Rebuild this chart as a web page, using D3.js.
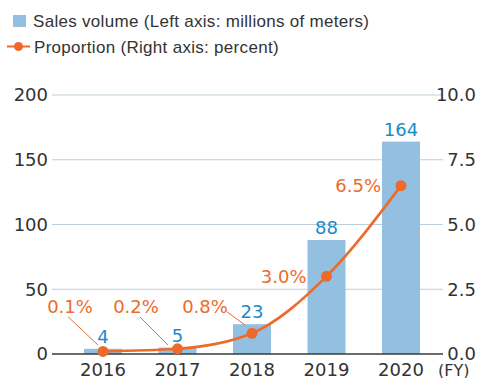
<!DOCTYPE html>
<html>
<head>
<meta charset="utf-8">
<script src="https://cdn.jsdelivr.net/npm/d3@7"></script>
<style>
  html, body { margin: 0; padding: 0; background: #fff; }
  svg { display: block; }
</style>
</head>
<body>
<svg id="chart" width="483" height="378"></svg>
<script>
// Fiscal years and values
const years = ["2016", "2017", "2018", "2019", "2020"];
const salesVolume = [4, 5, 23, 88, 164];          // millions of meters (left axis)
const proportion = [0.1, 0.2, 0.8, 3.0, 6.5];      // percent (right axis)
const proportionLabels = ["0.1%", "0.2%", "0.8%", "3.0%", "6.5%"];
const leftTicks = [0, 50, 100, 150, 200];
const rightTicks = [0, 2.5, 5, 7.5, 10];
const legendLabels = ["Sales volume (Left axis: millions of meters)", "Proportion (Right axis: percent)"];

const barColor = "#93bfe0";
const valueColor = "#1a8bc6";
const lineColor = "#ee6a2b";
const gridColor = "#bccfdd";
const textColor = "#333333";
const numFont = "'DejaVu Sans', sans-serif";
const textFont = "'Liberation Sans', Arial, sans-serif";

const svg = d3.select("#chart");

const plotLeft = 52, plotRight = 443, yBottom = 354, yTop = 95;

const x = d3.scaleBand().domain(years).range([84, 420]).paddingInner(0.49).paddingOuter(0);
const yL = d3.scaleLinear().domain([0, 200]).range([yBottom, yTop]);
const yR = d3.scaleLinear().domain([0, 10]).range([yBottom, yTop]);
const cx = d => x(d) + x.bandwidth() / 2;

// Gridlines
svg.append("g").selectAll("line").data(leftTicks.filter(t => t > 0)).join("line")
  .attr("x1", plotLeft).attr("x2", plotRight)
  .attr("y1", d => yL(d)).attr("y2", d => yL(d))
  .attr("stroke", gridColor).attr("stroke-width", 1.2);

// Left axis labels
const leftAxis = d3.axisLeft(yL).tickValues(leftTicks).tickSize(0).tickPadding(4).tickFormat(d3.format("d"));
const gL = svg.append("g").attr("transform", `translate(${plotLeft},0)`).call(leftAxis);
gL.select(".domain").remove();
gL.selectAll("text").attr("font-family", numFont).attr("font-size", 18).attr("fill", textColor);

// Right axis labels (right-aligned)
const rightAxis = d3.axisRight(yR).tickValues(rightTicks).tickSize(0).tickPadding(0).tickFormat(d3.format(".1f"));
const gR = svg.append("g").attr("transform", `translate(476,0)`).call(rightAxis);
gR.select(".domain").remove();
gR.selectAll("text").attr("font-family", numFont).attr("font-size", 18).attr("fill", textColor)
  .attr("text-anchor", "end").attr("x", 0);

// Bars
svg.append("g").selectAll("rect").data(years).join("rect")
  .attr("x", d => x(d)).attr("width", x.bandwidth())
  .attr("y", (d, i) => yL(salesVolume[i]))
  .attr("height", (d, i) => yBottom - yL(salesVolume[i]))
  .attr("fill", barColor);

// Baseline
svg.append("line").attr("x1", plotLeft).attr("x2", plotRight)
  .attr("y1", yBottom).attr("y2", yBottom)
  .attr("stroke", "#3a3a3a").attr("stroke-width", 1.5);

// Bar value labels
svg.append("g").selectAll("text").data(years).join("text")
  .attr("x", d => cx(d)).attr("y", (d, i) => yL(salesVolume[i]) - 6)
  .attr("text-anchor", "middle")
  .attr("font-family", numFont).attr("font-size", 18).attr("fill", valueColor)
  .text((d, i) => salesVolume[i]);

// X axis labels
const xAxis = d3.axisBottom(x).tickSize(0).tickPadding(0);
const gX = svg.append("g").attr("transform", `translate(0,${yBottom})`).call(xAxis);
gX.select(".domain").remove();
gX.selectAll("text").attr("font-family", numFont).attr("font-size", 18).attr("fill", textColor)
  .attr("dy", null).attr("y", 22);
svg.append("text").attr("x", 438).attr("y", 376)
  .attr("font-family", numFont).attr("font-size", 16).attr("fill", textColor).text("(FY)");

// Proportion line
const line = d3.line().x((d, i) => cx(years[i])).y(d => yR(d)).curve(d3.curveMonotoneX);
svg.append("path").datum(proportion).attr("d", line)
  .attr("fill", "none").attr("stroke", lineColor).attr("stroke-width", 2.6);

// Leader lines and labels for small values (placed above-left)
const smallOffsets = [
  { lx: -35, ly: -34.7, tx: -33, ex: -5, ey: -6.4 },
  { lx: -37.5, ly: -31.8, tx: -41.5, ex: -9.5, ey: -3.8 },
  { lx: -25.3, ly: -21.6, tx: -47, ex: -7, ey: -8.3 }
];
const lblG = svg.append("g");
proportion.forEach((v, i) => {
  const px = cx(years[i]), py = yR(v);
  if (i < 3) {
    const o = smallOffsets[i];
    lblG.append("line")
      .attr("x1", px + o.lx).attr("y1", py + o.ly)
      .attr("x2", px + o.ex).attr("y2", py + o.ey)
      .attr("stroke", lineColor).attr("stroke-width", 1);
    lblG.append("text")
      .attr("x", px + o.tx).attr("y", 313)
      .attr("text-anchor", "middle")
      .attr("font-family", numFont).attr("font-size", 18).attr("fill", lineColor)
      .text(proportionLabels[i]);
  } else {
    lblG.append("text")
      .attr("x", px - 20).attr("y", py + 6.5)
      .attr("text-anchor", "end")
      .attr("font-family", numFont).attr("font-size", 18).attr("fill", lineColor)
      .text(proportionLabels[i]);
  }
});

// Markers
svg.append("g").selectAll("circle").data(proportion).join("circle")
  .attr("cx", (d, i) => cx(years[i])).attr("cy", d => yR(d)).attr("r", 5.5)
  .attr("fill", lineColor);

// Legend
const leg = svg.append("g");
leg.append("rect").attr("x", 13).attr("y", 15).attr("width", 13).attr("height", 12).attr("fill", barColor);
leg.append("text").attr("x", 33).attr("y", 27)
  .attr("font-family", textFont).attr("font-size", 17).attr("letter-spacing", 0.3).attr("fill", textColor)
  .text(legendLabels[0]);
leg.append("line").attr("x1", 7).attr("x2", 30).attr("y1", 46.5).attr("y2", 46.5)
  .attr("stroke", lineColor).attr("stroke-width", 2);
leg.append("circle").attr("cx", 18.5).attr("cy", 46.5).attr("r", 4.5).attr("fill", lineColor);
leg.append("text").attr("x", 34).attr("y", 53)
  .attr("font-family", textFont).attr("font-size", 17).attr("letter-spacing", 0.3).attr("fill", textColor)
  .text(legendLabels[1]);
</script>
</body>
</html>
